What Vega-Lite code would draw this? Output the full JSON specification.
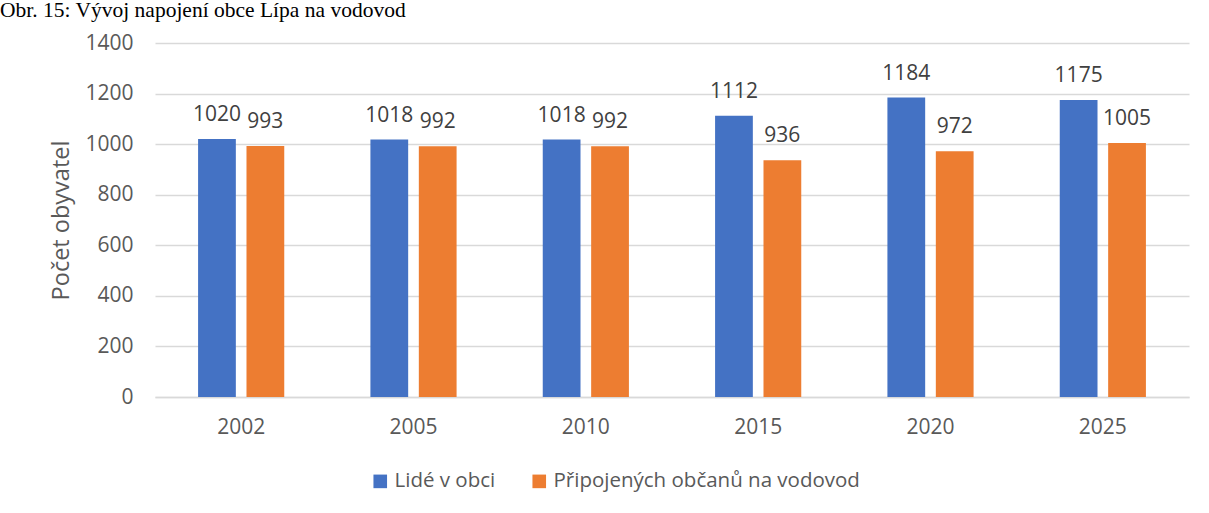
{
  "$schema": "https://vega.github.io/schema/vega-lite/v6.json",
  "autosize": "none",
  "width": 1034,
  "height": 354,
  "padding": {"left": 155, "top": 43, "right": 20, "bottom": 116},
  "background": "white",
  "title": {
    "text": "Obr. 15: Vývoj napojení obce Lípa na vodovod",
    "anchor": "start",
    "frame": "group",
    "orient": "top",
    "baseline": "alphabetic",
    "offset": 0,
    "dx": -155,
    "dy": 6,
    "font": "Liberation Serif",
    "fontSize": 21.5,
    "fontWeight": "normal",
    "color": "#000000"
  },
  "data": {
    "values": [
      {"rok": "2002", "serie": "Lidé v obci", "pocet": 1020},
      {"rok": "2002", "serie": "Připojených občanů na vodovod", "pocet": 993},
      {"rok": "2005", "serie": "Lidé v obci", "pocet": 1018},
      {"rok": "2005", "serie": "Připojených občanů na vodovod", "pocet": 992},
      {"rok": "2010", "serie": "Lidé v obci", "pocet": 1018},
      {"rok": "2010", "serie": "Připojených občanů na vodovod", "pocet": 992},
      {"rok": "2015", "serie": "Lidé v obci", "pocet": 1112},
      {"rok": "2015", "serie": "Připojených občanů na vodovod", "pocet": 936},
      {"rok": "2020", "serie": "Lidé v obci", "pocet": 1184},
      {"rok": "2020", "serie": "Připojených občanů na vodovod", "pocet": 972},
      {"rok": "2025", "serie": "Lidé v obci", "pocet": 1175},
      {"rok": "2025", "serie": "Připojených občanů na vodovod", "pocet": 1005}
    ]
  },
  "encoding": {
    "x": {
      "field": "rok",
      "type": "nominal",
      "scale": {"paddingInner": 0.5, "paddingOuter": 0.25},
      "axis": {
        "title": null,
        "labelAngle": 0,
        "ticks": false,
        "grid": false,
        "domain": true,
        "domainColor": "#d9d9d9",
        "domainWidth": 1.5,
        "labelPadding": 19,
        "labelFont": "Open Sans",
        "labelFontSize": 21,
        "labelColor": "#595959"
      }
    },
    "xOffset": {
      "field": "serie",
      "type": "nominal",
      "scale": {"paddingInner": 0.22, "paddingOuter": 0}
    },
    "y": {
      "field": "pocet",
      "type": "quantitative",
      "scale": {"domain": [0, 1400], "nice": false},
      "axis": {
        "title": "Počet obyvatel",
        "titleFont": "Open Sans",
        "titleFontSize": 23.5,
        "titleFontWeight": "normal",
        "titleColor": "#595959",
        "titlePadding": 11,
        "format": "d",
        "values": [0, 200, 400, 600, 800, 1000, 1200, 1400],
        "domain": false,
        "ticks": false,
        "grid": true,
        "gridColor": "#d9d9d9",
        "gridWidth": 1.5,
        "labelPadding": 22,
        "labelFont": "Open Sans",
        "labelFontSize": 21,
        "labelColor": "#595959"
      }
    }
  },
  "layer": [
    {
      "mark": {"type": "bar"},
      "encoding": {
        "color": {
          "field": "serie",
          "type": "nominal",
          "scale": {
            "domain": ["Lidé v obci", "Připojených občanů na vodovod"],
            "range": ["#4472C4", "#ED7D31"]
          },
          "legend": {
            "title": null,
            "orient": "none",
            "legendX": 215,
            "legendY": 428,
            "direction": "horizontal",
            "symbolType": "square",
            "symbolSize": 185,
            "symbolStrokeWidth": 0,
            "labelFont": "Open Sans",
            "labelFontSize": 20.5,
            "labelColor": "#595959",
            "labelOffset": 4,
            "labelLimit": 0,
            "columnPadding": 33
          }
        }
      }
    },
    {
      "mark": {
        "type": "text",
        "baseline": "middle",
        "dy": -24,
        "font": "Open Sans",
        "fontSize": 21,
        "color": "#404040"
      },
      "encoding": {
        "text": {"field": "pocet", "type": "quantitative"}
      }
    }
  ],
  "config": {
    "view": {"stroke": null},
    "font": "Open Sans"
  }
}
